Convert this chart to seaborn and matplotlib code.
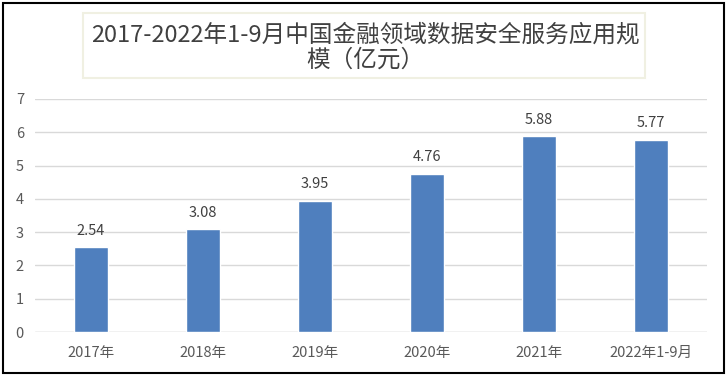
import matplotlib
matplotlib.use("Agg")
import matplotlib.pyplot as plt
import seaborn as sns
import pandas as pd
from matplotlib.patches import Rectangle

categories = ["2017年", "2018年", "2019年", "2020年", "2021年", "2022年1-9月"]
values = [2.54, 3.08, 3.95, 4.76, 5.88, 5.77]
title_lines = ["2017-2022年1-9月中国金融领域数据安全服务应用规", "模（亿元）"]

sns.set_theme(style="white")
plt.rcParams['font.family'] = ['Noto Sans CJK SC', 'DejaVu Sans']

df = pd.DataFrame({"cat": categories, "val": values})

fig = plt.figure(figsize=(7.28, 3.8), dpi=100)
ax = fig.add_axes([35/728, 48/380, 672/728, 233/380])

sns.barplot(data=df, x="cat", y="val", color="#4F7FBE", width=0.31,
            saturation=1, ax=ax, zorder=3)
ax.set_xlim(-0.5, 5.5)
ax.set_ylim(0, 7)
ax.set_yticks(range(0, 8))
ax.grid(axis="y", color="#D9D9D9", linewidth=1, zorder=0)
for s in ax.spines.values():
    s.set_visible(False)
ax.axhline(0, color="#D9D9D9", linewidth=1, zorder=1)
ax.set_xlabel("")
ax.set_ylabel("")
ax.tick_params(axis="both", length=0, labelsize=10.5, labelcolor="#595959")
ax.tick_params(axis="y", pad=8)
ax.tick_params(axis="x", pad=10)

for i, v in enumerate(values):
    ax.annotate(f"{v:.2f}", (i, v), xytext=(0, 7), textcoords="offset points",
                ha="center", va="bottom", fontsize=10.5, color="#404040")

# title box
fig.patches.append(Rectangle((83/728, 1 - 78/380), 562/728, 65/380,
                             transform=fig.transFigure, fill=True,
                             facecolor="white", edgecolor="#F0F0E2", linewidth=1.5))
fig.text(365/728, 1 - 35/380, title_lines[0], ha="center", va="center",
         fontsize=17, color="#404040")
fig.text(365/728, 1 - 60/380, title_lines[1], ha="center", va="center",
         fontsize=17, color="#404040")

# outer border
fig.patches.append(Rectangle((3/728, 1 - 373/380), 721/728, 370/380,
                             transform=fig.transFigure, fill=False,
                             edgecolor="black", linewidth=1.5))

fig.savefig("out.png", dpi=100)
